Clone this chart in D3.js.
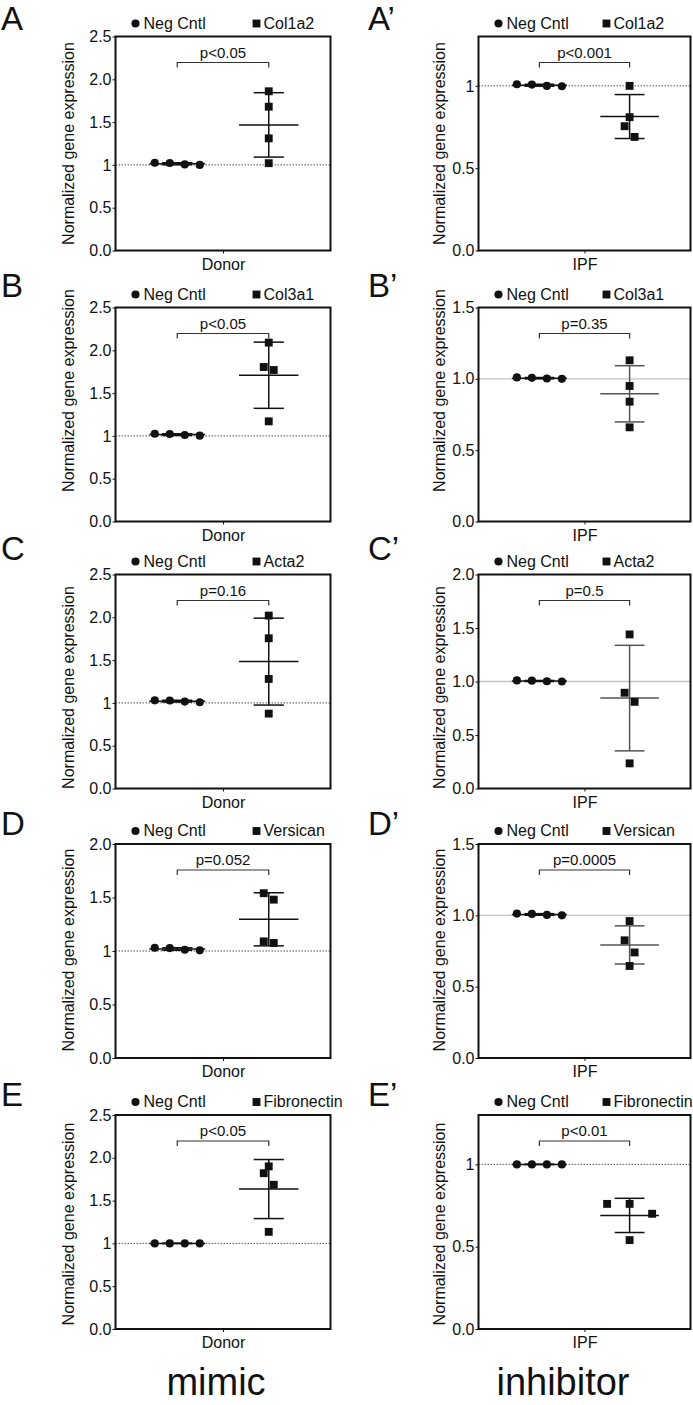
<!DOCTYPE html>
<html>
<head>
<meta charset="utf-8">
<script src="https://cdn.jsdelivr.net/npm/d3@7"></script>
<style>
    html, body { margin: 0; padding: 0; background: #fff; }
    svg { display: block; font-family: "Liberation Sans", Arial, Helvetica, sans-serif; }
</style>
</head>
<body>
<svg id="chart" width="693" height="1405"></svg>
<script>
(function () {
    "use strict";

    // ---- data ----
    var panelIds = ["A", "A\u2019", "B", "B\u2019", "C", "C\u2019", "D", "D\u2019", "E", "E\u2019"];
    var genes = ["Col1a2", "Col1a2", "Col3a1", "Col3a1", "Acta2", "Acta2", "Versican", "Versican", "Fibronectin", "Fibronectin"];
    var controlLabel = "Neg Cntl";
    var xCategories = ["Donor", "IPF"];
    var columnTitles = ["mimic", "inhibitor"];
    var pLabels = ["p<0.05", "p<0.001", "p<0.05", "p=0.35", "p=0.16", "p=0.5", "p=0.052", "p=0.0005", "p<0.05", "p<0.01"];

    var negCntl = [
        [1.025, 1.022, 1.006, 1.0],
        [1.01, 1.008, 1.0, 0.998],
        [1.025, 1.022, 1.01, 1.003],
        [1.01, 1.007, 1.002, 1.0],
        [1.03, 1.028, 1.015, 1.008],
        [1.01, 1.008, 1.002, 1.0],
        [1.03, 1.027, 1.012, 1.006],
        [1.012, 1.01, 1.003, 1.0],
        [1.0, 1.0, 1.0, 1.0],
        [1.0, 1.0, 1.0, 1.0]
    ];
    var treated = [
        [1.86, 1.68, 1.31, 1.02],
        [1.0, 0.81, 0.755, 0.69],
        [2.09, 1.805, 1.77, 1.17],
        [1.13, 0.95, 0.84, 0.66],
        [2.02, 1.755, 1.28, 0.875],
        [1.44, 0.895, 0.81, 0.235],
        [1.54, 1.48, 1.09, 1.075],
        [0.96, 0.825, 0.74, 0.645],
        [1.9, 1.82, 1.685, 1.135],
        [0.76, 0.76, 0.70, 0.54]
    ];
    var yMax = [2.5, 1.3, 2.5, 1.5, 2.5, 2.0, 2.0, 1.5, 2.5, 1.3];
    var yTicks = [
        [0, 0.5, 1, 1.5, 2, 2.5],
        [0, 0.5, 1],
        [0, 0.5, 1, 1.5, 2, 2.5],
        [0, 0.5, 1, 1.5],
        [0, 0.5, 1, 1.5, 2, 2.5],
        [0, 0.5, 1, 1.5, 2],
        [0, 0.5, 1, 1.5, 2],
        [0, 0.5, 1, 1.5],
        [0, 0.5, 1, 1.5, 2, 2.5],
        [0, 0.5, 1]
    ];
    var yTickLabels = [
        ["0.0", "0.5", "1", "1.5", "2.0", "2.5"],
        ["0.0", "0.5", "1"],
        ["0.0", "0.5", "1", "1.5", "2.0", "2.5"],
        ["0.0", "0.5", "1.0", "1.5"],
        ["0.0", "0.5", "1", "1.5", "2.0", "2.5"],
        ["0.0", "0.5", "1.0", "1.5", "2.0"],
        ["0.0", "0.5", "1", "1.5", "2.0"],
        ["0.0", "0.5", "1.0", "1.5"],
        ["0.0", "0.5", "1", "1.5", "2.0", "2.5"],
        ["0.0", "0.5", "1"]
    ];

    // ---- layout ----
    var cols = [
        { x: 115.5, w: 215, titleDx: -47, letterX: 1, legCircle: 20, legSquare: 141, titleX: 216 },
        { x: 478.5, w: 212, titleDx: -39, letterX: 368, legCircle: 20, legSquare: 128, titleX: 563 }
    ];
    var rows = [
        { top: 36.5, titleDy: 0, letterY: 30 },
        { top: 307.5, titleDy: -24, letterY: 297 },
        { top: 574.5, titleDy: 6, letterY: 560 },
        { top: 844, titleDy: -1, letterY: 835 },
        { top: 1115, titleDy: 2, letterY: 1106 }
    ];
    var plotH = 214;
    var grayStyle = ["B\u2019", "C\u2019", "D\u2019"];
    var ink = "#111";

    var svg = d3.select("#chart");
    svg.append("rect").attr("width", 693).attr("height", 1405).attr("fill", "#fff");

    var circleSym = d3.symbol(d3.symbolCircle, 52);
    var squareSym = d3.symbol(d3.symbolSquare, 62);

    // spread overlapping points horizontally like a column scatter
    function spreadOffsets(vals, y) {
        var order = d3.range(vals.length).sort(function (a, b) { return vals[b] - vals[a]; });
        var off = vals.map(function () { return 0; });
        var clusters = [];
        var cur = [order[0]];
        for (var k = 1; k < order.length; k++) {
            if (Math.abs(y(vals[order[k]]) - y(vals[order[k - 1]])) < 12.5) {
                cur.push(order[k]);
            } else {
                clusters.push(cur);
                cur = [order[k]];
            }
        }
        clusters.push(cur);

        clusters.forEach(function (c) {
            var n = c.length;
            if (n === 1) return;
            if (n === 2) {
                off[c[0]] = -5;
                off[c[1]] = 5;
                return;
            }
            var gaps = d3.pairs(c).map(function (p) {
                return Math.abs(y(vals[p[0]]) - y(vals[p[1]]));
            });
            if (n === 3 && d3.min(gaps) >= 4) {
                off[c[1]] = -5;
                off[c[2]] = 5;
                return;
            }
            var step = 45 / (n - 1);
            c.forEach(function (j, i) { off[j] = (i - (n - 1) / 2) * step; });
        });
        return off;
    }

    panelIds.forEach(function (pid, i) {
        var col = cols[i % 2];
        var row = rows[Math.floor(i / 2)];
        var gray = grayStyle.indexOf(pid) >= 0;
        var x0 = col.x, y0 = row.top, w = col.w;

        var x = d3.scaleLinear().domain([-2.35, 2.35]).range([x0, x0 + w]);
        var y = d3.scaleLinear().domain([0, yMax[i]]).range([y0 + plotH, y0]);

        var g = svg.append("g").attr("class", "panel");

        // panel letter
        g.append("text")
            .attr("x", col.letterX).attr("y", row.letterY)
            .attr("font-size", 33).attr("fill", ink)
            .text(pid);

        // legend
        var legY = y0 - 8;
        g.append("path")
            .attr("d", circleSym())
            .attr("transform", "translate(" + (x0 + col.legCircle) + "," + (legY - 5) + ")")
            .attr("fill", ink);
        g.append("text")
            .attr("x", x0 + col.legCircle + 8).attr("y", legY)
            .attr("font-size", 16).attr("fill", ink)
            .text(controlLabel);
        g.append("path")
            .attr("d", squareSym())
            .attr("transform", "translate(" + (x0 + col.legSquare) + "," + (legY - 5) + ")")
            .attr("fill", ink);
        g.append("text")
            .attr("x", x0 + col.legSquare + 7).attr("y", legY)
            .attr("font-size", 16).attr("fill", ink)
            .text(genes[i]);

        // reference line at 1
        g.append("line")
            .attr("x1", x0).attr("x2", x0 + w)
            .attr("y1", y(1)).attr("y2", y(1))
            .attr("stroke", gray ? "#c4c4c4" : "#555")
            .attr("stroke-width", gray ? 1.3 : 1)
            .attr("stroke-dasharray", gray ? null : "1.5,1.5");

        // y axis
        var yAxis = d3.axisLeft(y)
            .tickValues(yTicks[i])
            .tickFormat(function (d, k) { return yTickLabels[i][k]; })
            .tickSize(3).tickPadding(1).tickSizeOuter(0);
        var ya = g.append("g").attr("transform", "translate(" + x0 + ",0)").call(yAxis);
        ya.select(".domain").remove();
        ya.selectAll("text").attr("font-size", 16).attr("fill", ink)
            .style("font-family", "'Liberation Sans', Arial, sans-serif");
        ya.selectAll("line").attr("stroke", ink);

        // x axis (single category)
        var xAxis = d3.axisBottom(x)
            .tickValues([0])
            .tickFormat(function () { return xCategories[i % 2]; })
            .tickSize(3).tickPadding(5).tickSizeOuter(0);
        var xa = g.append("g").attr("transform", "translate(0," + (y0 + plotH) + ")").call(xAxis);
        xa.select(".domain").remove();
        xa.selectAll("text").attr("font-size", 16).attr("fill", ink)
            .style("font-family", "'Liberation Sans', Arial, sans-serif");
        xa.selectAll("line").attr("stroke", ink);

        // y axis title
        g.append("text")
            .attr("transform", "translate(" + (x0 + col.titleDx) + "," + (y0 + plotH / 2 + row.titleDy) + ") rotate(-90)")
            .attr("text-anchor", "middle").attr("dy", "0.35em")
            .attr("font-size", 16).attr("fill", ink)
            .text("Normalized gene expression");

        // groups: control at -1, treatment at +1
        var groups = [
            { pos: -1, vals: negCntl[i], sym: circleSym, half: 0.61, color: ink },
            { pos: 1, vals: treated[i], sym: squareSym, half: 0.65, color: gray ? "#555" : ink }
        ];

        groups.forEach(function (grp) {
            var m = d3.mean(grp.vals);
            var sd = d3.deviation(grp.vals);
            var cx = x(grp.pos);
            var capHalf = x(0.33) - x(0);
            var eg = g.append("g")
                .attr("stroke", grp.color).attr("stroke-width", 1.5).attr("fill", "none");
            eg.append("line")
                .attr("x1", cx).attr("x2", cx)
                .attr("y1", y(m - sd)).attr("y2", y(m + sd));
            [m - sd, m + sd].forEach(function (v) {
                eg.append("line")
                    .attr("x1", cx - capHalf).attr("x2", cx + capHalf)
                    .attr("y1", y(v)).attr("y2", y(v));
            });
            eg.append("line")
                .attr("x1", x(grp.pos - grp.half)).attr("x2", x(grp.pos + grp.half))
                .attr("y1", y(m)).attr("y2", y(m));

            var off = spreadOffsets(grp.vals, y);
            g.selectAll(null)
                .data(grp.vals)
                .enter()
                .append("path")
                .attr("d", grp.sym())
                .attr("transform", function (d, k) {
                    return "translate(" + (cx + off[k]) + "," + y(d) + ")";
                })
                .attr("fill", ink);
        });

        // significance bracket
        var bx1 = x(-1), bx2 = x(1), by = y0 + 26;
        g.append("path")
            .attr("d", "M" + bx1 + "," + (by + 5) + "V" + by + "H" + bx2 + "V" + (by + 5))
            .attr("fill", "none").attr("stroke", "#333").attr("stroke-width", 1.2);
        g.append("text")
            .attr("x", (bx1 + bx2) / 2).attr("y", by - 5)
            .attr("text-anchor", "middle")
            .attr("font-size", 15).attr("fill", ink)
            .text(pLabels[i]);

        // frame
        g.append("rect")
            .attr("x", x0).attr("y", y0)
            .attr("width", w).attr("height", plotH)
            .attr("fill", "none").attr("stroke", ink).attr("stroke-width", 2);
    });

    // column titles
    columnTitles.forEach(function (t, c) {
        svg.append("text")
            .attr("x", cols[c].titleX).attr("y", 1395)
            .attr("text-anchor", "middle")
            .attr("font-size", 38).attr("fill", ink)
            .text(t);
    });
})();
</script>
</body>
</html>
